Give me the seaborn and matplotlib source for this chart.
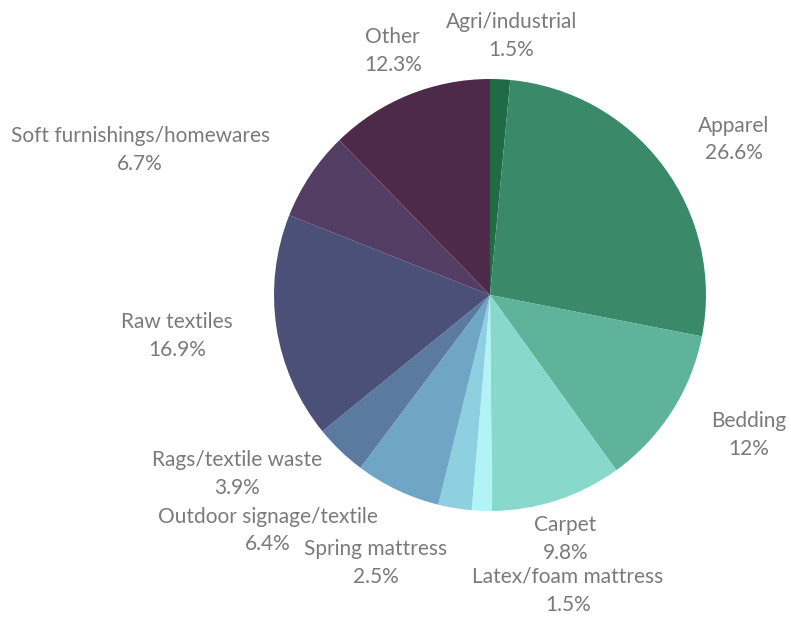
import matplotlib
matplotlib.use("Agg")
import matplotlib.pyplot as plt
import seaborn as sns

sns.set_theme(style="white")
plt.rcParams["font.family"] = ["Lato", "DejaVu Sans"]

categories = [
    "Agri/industrial", "Apparel", "Bedding", "Carpet", "Latex/foam mattress",
    "Spring mattress", "Outdoor signage/textile", "Rags/textile waste",
    "Raw textiles", "Soft furnishings/homewares", "Other",
]
shares = [1.5, 26.6, 12, 9.8, 1.5, 2.5, 6.4, 3.9, 16.9, 6.7, 12.3]
share_labels = ["1.5%", "26.6%", "12%", "9.8%", "1.5%", "2.5%", "6.4%", "3.9%",
                "16.9%", "6.7%", "12.3%"]
colors = ["#1f6b45", "#3a8a6a", "#5fb39b", "#88d9cb", "#b2f4f6", "#8ecfe0",
          "#6fa5c5", "#5a7aa0", "#4b5078", "#533d62", "#4e2a4a"]

# label anchor points (in pie radius units)
label_xy = [
    (0.10, 1.20), (1.13, 0.72), (1.20, -0.65), (0.35, -1.13), (0.36, -1.37),
    (-0.53, -1.24), (-1.03, -1.09), (-1.17, -0.83), (-1.45, -0.19),
    (-1.62, 0.67), (-0.45, 1.13),
]

fig = plt.figure(figsize=(7.91, 6.22), dpi=100)
ax = fig.add_axes([0.3464, 0.1785, 0.5461, 0.6945])
ax.pie(shares, colors=colors, startangle=90, counterclock=False,
       wedgeprops=dict(linewidth=0))
ax.set_xlim(-1, 1)
ax.set_ylim(-1, 1)
ax.set_aspect("equal")
ax.axis("off")

# each label: category name on top, share underneath
for name, lab, (x, y) in zip(categories, share_labels, label_xy):
    style = dict(ha="center", va="center", fontsize=15, color="#7a7a7a",
                 annotation_clip=False, textcoords="offset points",
                 xycoords="data")
    ax.annotate(name, (x, y), xytext=(0, 10), **style)
    ax.annotate(lab, (x, y), xytext=(0, -10), **style)

fig.savefig("out.png", dpi=100, facecolor="white")
